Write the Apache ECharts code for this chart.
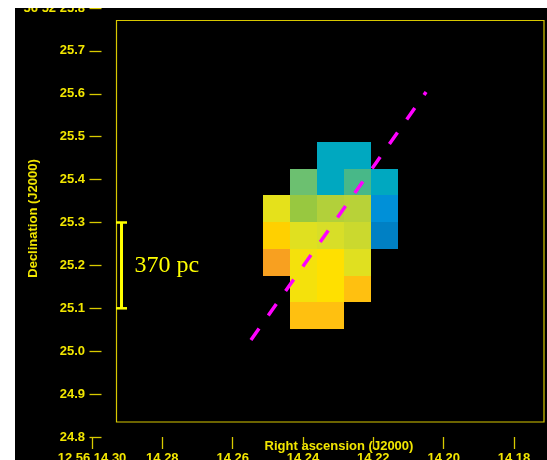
<!DOCTYPE html>
<html>
<head>
<meta charset="utf-8">
<script src="https://cdn.jsdelivr.net/npm/echarts@6/dist/echarts.min.js"></script>
<style>
  html, body { margin: 0; padding: 0; background: #fff; width: 547px; height: 460px; overflow: hidden; }
  #chart { position: absolute; left: 15px; top: 8px; width: 532px; height: 452px; background: #000; }
</style>
</head>
<body>
<div id="chart"></div>
<script>
// Right ascension seconds (12h56m..s) shown as ticks, and Dec arcseconds (+56°52'..")
const raTicks = [14.30, 14.28, 14.26, 14.24, 14.22, 14.20, 14.18];
const decTicks = [24.8, 24.9, 25.0, 25.1, 25.2, 25.3, 25.4, 25.5, 25.6, 25.7, 25.8];
const raPrefix = '12 56 ';
const decPrefix = '56 52 ';

// Map pixels: column centres (RA s) and row centres (Dec ")
const raColumns = [14.24754, 14.23986, 14.23218, 14.22450, 14.21683];
const decRows = [25.4565, 25.3942, 25.3319, 25.2696, 25.2074, 25.1451, 25.0828];
const pixelRA = 0.007678;   // pixel width in RA seconds
const pixelDec = 0.06228;   // pixel height in arcsec

// Velocity level of each map pixel (rows top to bottom, columns east to west)
const levels = [
  [null, null, 2,   2,   null],
  [null, 4,    2,   3,   2],
  [7.8,  5,    5.8, 6,   1],
  [10,   7.5,  7,   6.6, 0],
  [12,   8.5,  9,   7.5, null],
  [null, 8.5,  9,   11,  null],
  [null, 11,   11,  null, null]
];
const levelColors = ['#0080c4', '#0090d8', '#00a8c0', '#48b888', '#6cc070', '#98c840',
  '#b8d238', '#d8de28', '#e8e218', '#ffe000', '#ffd000', '#ffc010', '#f8a020'];

// Position-angle cut (RA s, Dec ")
const cutRA = [14.2548, 14.2050];
const cutDec = [25.026, 25.604];

// Scale bar
const scaleRA = 14.29161;
const scaleDec = [25.1, 25.3];
const scaleText = '370 pc';

const cells = [];
levels.forEach((row, r) => row.forEach((v, c) => {
  if (v !== null) cells.push([raColumns[c], decRows[r], v]);
}));

const yellow = '#f2e600';
const tickColor = '#d8ca00';
const labelFont = { color: yellow, fontFamily: 'Liberation Sans, Arial, sans-serif', fontWeight: 'bold', fontSize: 13 };

const chart = echarts.init(document.getElementById('chart'), null, { renderer: 'canvas' });

chart.setOption({
  backgroundColor: '#000',
  animation: false,
  grid: [
    { left: 77, right: 33, top: 0, bottom: 23, containLabel: false, outerBoundsMode: 'none' },
    { left: 101.5, right: 3, top: 12.5, bottom: 38, show: true, borderColor: '#d8c800', borderWidth: 1.2,
      backgroundColor: 'transparent', outerBoundsMode: 'none' }
  ],
  visualMap: {
    show: false, type: 'continuous', seriesIndex: 0, dimension: 2,
    min: 0, max: levelColors.length - 1, inRange: { color: levelColors }
  },
  xAxis: [
    {
      type: 'value', gridIndex: 0, inverse: true,
      min: Math.min(...raTicks), max: Math.max(...raTicks), interval: 0.02,
      axisLine: { show: false },
      axisTick: { show: true, length: 12, lineStyle: { color: tickColor, width: 1.3 } },
      splitLine: { show: false },
      axisLabel: Object.assign({
        margin: 15,
        formatter: v => (Math.abs(v - Math.max(...raTicks)) < 1e-6 ? raPrefix : '') + v.toFixed(2)
      }, labelFont),
      name: 'Right ascension (J2000)', nameLocation: 'middle', nameGap: 2.5, nameMoveOverlap: false,
      nameTextStyle: Object.assign({ padding: [0, 0, 0, 72], verticalAlign: 'top' }, labelFont)
    },
    { type: 'value', gridIndex: 1, show: false }
  ],
  yAxis: [
    {
      type: 'value', gridIndex: 0, offset: -9.5,
      min: Math.min(...decTicks), max: Math.max(...decTicks), interval: 0.1,
      axisLine: { show: false },
      axisTick: { show: true, length: 12, lineStyle: { color: tickColor, width: 1.3 } },
      splitLine: { show: false },
      axisLabel: Object.assign({
        margin: 16.5,
        formatter: v => (Math.abs(v - Math.max(...decTicks)) < 1e-6 ? decPrefix : '') + v.toFixed(1)
      }, labelFont),
      name: 'Declination (J2000)', nameLocation: 'middle', nameGap: 61.5, nameMoveOverlap: false,
      nameTextStyle: Object.assign({ padding: [0, 0, 0, 8] }, labelFont)
    },
    { type: 'value', gridIndex: 1, show: false }
  ],
  series: [
    {
      type: 'custom', xAxisIndex: 0, yAxisIndex: 0, z: 3,
      data: cells,
      renderItem: (params, api) => {
        const ra = api.value(0), dec = api.value(1);
        const a = api.coord([ra + pixelRA / 2, dec + pixelDec / 2]);
        const b = api.coord([ra - pixelRA / 2, dec - pixelDec / 2]);
        const x0 = Math.round(Math.min(a[0], b[0])), x1 = Math.round(Math.max(a[0], b[0]));
        const y0 = Math.round(Math.min(a[1], b[1])), y1 = Math.round(Math.max(a[1], b[1]));
        return { type: 'rect', shape: { x: x0, y: y0, width: x1 - x0, height: y1 - y0 },
                 style: { fill: api.visual('color') } };
      }
    },
    {
      type: 'line', xAxisIndex: 0, yAxisIndex: 0, z: 4,
      data: cutRA.map((ra, i) => [ra, cutDec[i]]),
      showSymbol: false, silent: true,
      lineStyle: { color: '#ff00ff', width: 3.5, type: [14, 16], cap: 'butt' }
    },
    {
      type: 'line', xAxisIndex: 0, yAxisIndex: 0, z: 5,
      data: scaleDec.map(d => [scaleRA, d]),
      symbol: 'rect', symbolSize: [11, 2.5], showSymbol: true, silent: true,
      itemStyle: { color: '#ffff00' },
      lineStyle: { color: '#ffff00', width: 3 }
    },
    {
      type: 'scatter', xAxisIndex: 0, yAxisIndex: 0, z: 5,
      data: [[scaleRA, (scaleDec[0] + scaleDec[1]) / 2]],
      symbolSize: 0, silent: true,
      itemStyle: { opacity: 1 },
      label: {
        show: true, position: 'right', distance: 13, formatter: scaleText, opacity: 1,
        color: '#ffff00', fontFamily: 'Liberation Serif, Times New Roman, serif', fontSize: 24
      }
    }
  ]
});
</script>
</body>
</html>
